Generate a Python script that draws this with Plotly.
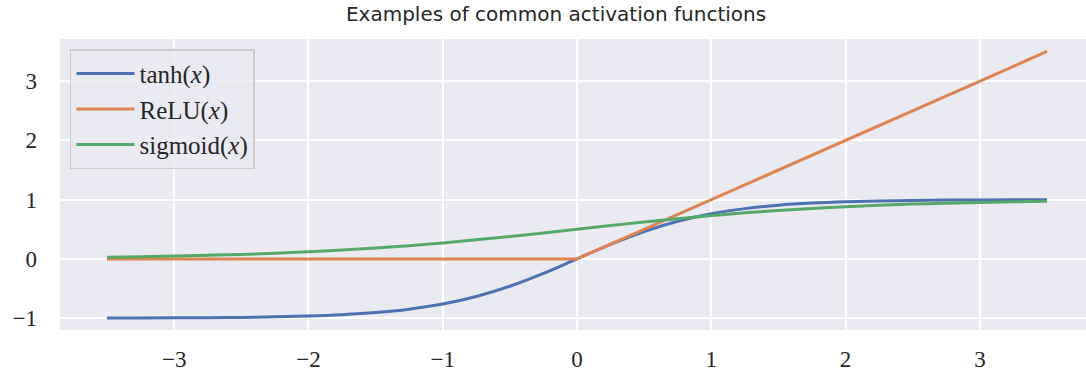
import plotly.graph_objects as go

x_vals = [-3.5, -3.25, -3.0, -2.75, -2.5, -2.25, -2.0, -1.75, -1.5, -1.25, -1.0, -0.75, -0.5, -0.25,
          0.0, 0.25, 0.5, 0.75, 1.0, 1.25, 1.5, 1.75, 2.0, 2.25, 2.5, 2.75, 3.0, 3.25, 3.5]
tanh_vals = [-0.998, -0.997, -0.995, -0.992, -0.987, -0.978, -0.964, -0.941, -0.905, -0.848, -0.762, -0.635, -0.462, -0.245,
             0.0, 0.245, 0.462, 0.635, 0.762, 0.848, 0.905, 0.941, 0.964, 0.978, 0.987, 0.992, 0.995, 0.997, 0.998]
relu_vals = [0.0, 0.0, 0.0, 0.0, 0.0, 0.0, 0.0, 0.0, 0.0, 0.0, 0.0, 0.0, 0.0, 0.0,
             0.0, 0.25, 0.5, 0.75, 1.0, 1.25, 1.5, 1.75, 2.0, 2.25, 2.5, 2.75, 3.0, 3.25, 3.5]
sigmoid_vals = [0.029, 0.037, 0.047, 0.060, 0.076, 0.095, 0.119, 0.148, 0.182, 0.223, 0.269, 0.321, 0.378, 0.438,
                0.5, 0.562, 0.622, 0.679, 0.731, 0.777, 0.818, 0.852, 0.881, 0.905, 0.924, 0.940, 0.953, 0.963, 0.971]

series_names = ["tanh(<i>x</i>)", "ReLU(<i>x</i>)", "sigmoid(<i>x</i>)"]
x_ticks = [-3, -2, -1, 0, 1, 2, 3]
x_tick_labels = ["\u22123", "\u22122", "\u22121", "0", "1", "2", "3"]
y_ticks = [-1, 0, 1, 2, 3]
y_tick_labels = ["\u22121", "0", "1", "2", "3"]
title_text = "Examples of common activation functions"

colors = ["#4C72B0", "#DD8452", "#55A868"]
serif = "Liberation Serif, DejaVu Serif, serif"

fig = go.Figure()
fig.add_trace(go.Scatter(x=x_vals, y=tanh_vals, mode="lines", name=series_names[0],
                         line=dict(color=colors[0], width=3, shape="spline")))
fig.add_trace(go.Scatter(x=x_vals, y=relu_vals, mode="lines", name=series_names[1],
                         line=dict(color=colors[1], width=3)))
fig.add_trace(go.Scatter(x=x_vals, y=sigmoid_vals, mode="lines", name=series_names[2],
                         line=dict(color=colors[2], width=3, shape="spline")))

fig.update_layout(
    width=1086, height=376,
    margin=dict(l=60, r=0, t=39, b=46),
    paper_bgcolor="white",
    plot_bgcolor="#EAEAF2",
    title=dict(text=title_text, x=0.512, xanchor="center", y=0.963, yanchor="middle",
               font=dict(family="DejaVu Sans, sans-serif", size=20, color="#262626")),
    legend=dict(x=0.0097, y=0.965, xanchor="left", yanchor="top",
                bgcolor="rgba(234,234,242,0.8)", bordercolor="#CCCCCC", borderwidth=1.5,
                font=dict(family=serif, size=25, color="#262626"),
                tracegroupgap=0, itemwidth=58),
    showlegend=True,
)
fig.update_xaxes(range=[-3.85, 3.79], tickvals=x_ticks, ticktext=x_tick_labels,
                 showgrid=True, gridcolor="white", gridwidth=2, zeroline=False,
                 showline=False, ticks="", ticklabelstandoff=13,
                 tickfont=dict(family=serif, size=23, color="#262626"))
fig.update_yaxes(range=[-1.2, 3.71], tickvals=y_ticks, ticktext=y_tick_labels,
                 showgrid=True, gridcolor="white", gridwidth=2, zeroline=False,
                 showline=False, ticks="", ticklabelstandoff=22,
                 tickfont=dict(family=serif, size=23, color="#262626"))

fig.write_html("out.html")
